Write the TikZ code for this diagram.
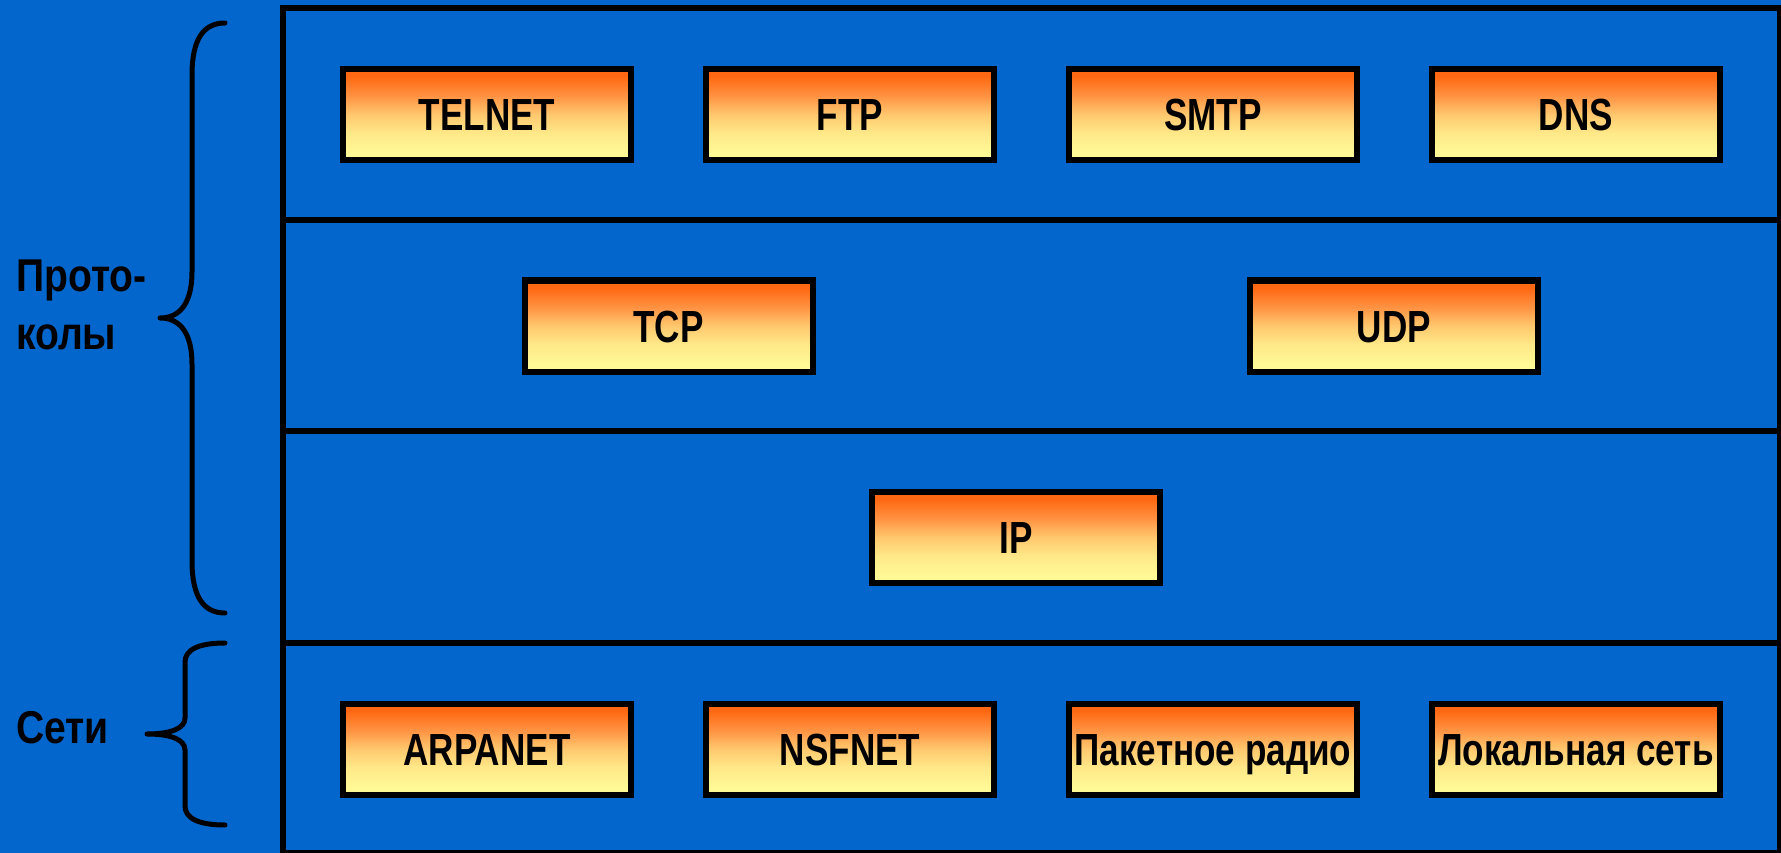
\documentclass[tikz,border=0pt]{standalone}
\usepackage{fontspec}
\setmainfont{Liberation Sans}[FakeStretch=0.78]
\newfontfamily\labelfont{Liberation Sans}[FakeStretch=0.85]
\definecolor{bg}{RGB}{2,102,204}
\definecolor{byel}{RGB}{255,249,150}
\definecolor{blow}{RGB}{255,232,136}
\definecolor{bmid}{RGB}{255,200,110}
\definecolor{bup}{RGB}{255,148,68}
\definecolor{borg}{RGB}{255,104,18}
\pgfdeclareverticalshading{boxshade}{100bp}{color(0bp)=(byel); color(29bp)=(byel); color(40bp)=(blow); color(50bp)=(bmid); color(60bp)=(bup); color(71bp)=(borg); color(100bp)=(borg)}
\tikzset{
  protobox/.style={draw=black, line width=6pt, shading=boxshade, minimum width=288pt, minimum height=91pt, inner sep=0pt, text height=32pt, text depth=0pt, font=\fontsize{45}{54}\selectfont\bfseries, text=black},
  frameline/.style={draw=black, line width=6pt},
  bracepath/.style={draw=black, line width=5pt, line cap=round, line join=round},
  sidelabel/.style={inner sep=0pt, align=left, font=\labelfont\fontsize{46}{58}\selectfont\bfseries, text=black}
}
\begin{document}
\begin{tikzpicture}[x=1pt, y=-1pt]
\useasboundingbox (0,0) rectangle (1781,853);
\fill[bg] (0,0) rectangle (1781,853);
% frame and layers
\draw[frameline] (283,8) rectangle (1780,853);
\coordinate (d1l) at (283,220); \coordinate (d1r) at (1780,220);
\coordinate (d2l) at (283,431); \coordinate (d2r) at (1780,431);
\coordinate (d3l) at (283,643); \coordinate (d3r) at (1780,643);
\draw[frameline] (d1l) -- (d1r);
\draw[frameline] (d2l) -- (d2r);
\draw[frameline] (d3l) -- (d3r);
% application layer
\node[protobox] (telnet) at (487,114.5) {TELNET};
\node[protobox] (ftp) at (850,114.5) {FTP};
\node[protobox] (smtp) at (1213,114.5) {SMTP};
\node[protobox] (dns) at (1576,114.5) {DNS};
% transport layer
\node[protobox] (tcp) at (668.5,326) {TCP};
\node[protobox] (udp) at (1394,326) {UDP};
% network layer
\node[protobox] (ip) at (1016,537.5) {IP};
% networks
\node[protobox] (arpanet) at (487,749) {ARPANET};
\node[protobox] (nsfnet) at (850,749) {NSFNET};
\node[protobox] (radio) at (1213,749) {Пакетное радио};
\node[protobox] (lan) at (1576,749) {Локальная сеть};
% braces
\draw[bracepath] (225,23) .. controls (203,23) and (192,40) .. (192,75)
  -- (192,272) .. controls (192,300) and (182,318) .. (160,318)
  .. controls (182,318) and (192,336) .. (192,364)
  -- (192,561) .. controls (192,596) and (203,613) .. (225,613);
\draw[bracepath] (225,643) .. controls (198,643) and (185,650) .. (185,662)
  -- (185,718) .. controls (185,728) and (172,734) .. (147,734)
  .. controls (172,734) and (185,740) .. (185,750)
  -- (185,806) .. controls (185,818) and (198,825) .. (225,825);
% labels
\node[sidelabel, anchor=west] (protocols) at (16,305) {Прото-\\колы};
\node[sidelabel, anchor=base west] (nets) at (16,743) {Сети};
\end{tikzpicture}
\end{document}
